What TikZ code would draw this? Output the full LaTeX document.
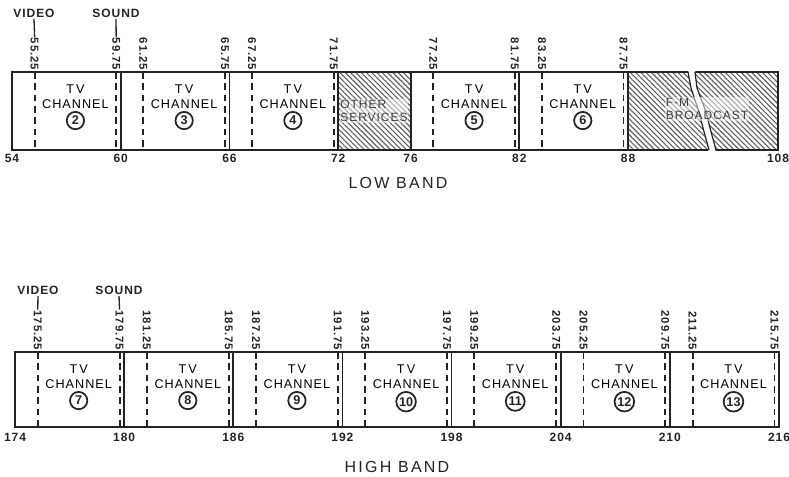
\documentclass[tikz,border=0pt]{standalone}
\usepackage{fontspec}
\setmainfont{Liberation Sans}
\newfontfamily\lettering[LetterSpace=8]{Liberation Sans}
\usepackage{xcolor}
\usetikzlibrary{positioning,patterns.meta}
\definecolor{inkgrey}{RGB}{35,35,35}
\definecolor{hatchgrey}{RGB}{95,95,95}

\tikzset{
  bandframe/.style={draw=inkgrey,line width=1.3pt},
  carrier/.style={draw=inkgrey,line width=1.4pt,dash pattern=on 5pt off 3.5pt},
  freqlbl/.style={font=\lettering\fontsize{8.5}{9}\selectfont\bfseries,text=inkgrey,
                  rotate=-90,anchor=east,inner sep=0.6pt},
  edgelbl/.style={font=\lettering\fontsize{9}{10}\selectfont\bfseries,text=inkgrey,
                  anchor=north,inner sep=1pt},
  toplbl/.style={font=\lettering\fontsize{9}{10}\selectfont\bfseries,text=inkgrey,inner sep=1pt},
  chanlbl/.style={font=\lettering\fontsize{9.5}{11}\selectfont,text=black,align=center,inner sep=0pt},
  chnum/.style={circle,draw=inkgrey,line width=1.3pt,inner sep=0.8pt,minimum size=13pt,
                font=\fontsize{9.5}{10}\selectfont\bfseries,text=inkgrey},
  hatch/.style={pattern={Lines[angle=-45,distance=2.8pt,line width=0.85pt]},pattern color=hatchgrey},
  hatchlbl/.style={font=\lettering\fontsize{9}{10}\selectfont,text=inkgrey,
                   fill=white,fill opacity=0.5,text opacity=0.85,inner sep=0.5pt,align=left},
  bandname/.style={font=\fontsize{12}{13}\selectfont\addfontfeature{LetterSpace=14},text=inkgrey}
}

\begin{document}
\begin{tikzpicture}[x=0.75pt,y=-0.75pt]
  \useasboundingbox (0,0) rectangle (789,477);

  % ---------------- low band: 54..88 linear, 88..108 squeezed
  \fill[hatch] (338,72) rectangle (410,150);
  \fill[hatch] (628,72) rectangle (778,150);
  \draw[bandframe] (12,72) rectangle (778,150);
  % break in the F-M block
  \fill[white] (688,69) -- (691,88) -- (699,112) -- (703,128) -- (709,153)
            -- (716,153) -- (710,128) -- (706,112) -- (697,88) -- (695,69) -- cycle;
  \draw[inkgrey,line width=0.9pt] (688,72) -- (691,88) -- (699,112) -- (703,128) -- (709,150);
  \draw[inkgrey,line width=0.9pt] (695,72) -- (697,88) -- (706,112) -- (710,128) -- (716,150);
  % channel edges
  \foreach \f in {60,66,72,76,82,88} {
    \pgfmathsetmacro\xx{12+(\f-54)*18.12}
    \draw[bandframe] (\xx,72) -- (\xx,150);
  }
  % carriers
  \foreach \f [count=\i] in {55.25,59.75,61.25,65.75,67.25,71.75,77.25,81.75,83.25,87.75} {
    \pgfmathsetmacro\xx{12+(\f-54)*18.12}
    \draw[carrier] (\xx,72) -- (\xx,150);
    \node[freqlbl] (lf\i) at (\xx,71) {\f};
  }
  % edge frequencies
  \foreach \f in {54,60,66,72,76,82,88} {
    \pgfmathsetmacro\xx{12+(\f-54)*18.12}
    \node[edgelbl] (le\f) at (\xx,153) {\f};
  }
  \node[edgelbl] (le108) at (778,153) {108};
  % channel names
  \foreach \n/\lo in {2/54,3/60,4/66,5/76,6/82} {
    \pgfmathsetmacro\xx{12+(\lo+3.5-54)*18.12}
    \node[chanlbl] (lch\n) at (\xx,97) {T\,V\\CHANNEL};
    \node[chnum,below=1.5pt of lch\n] (lnum\n) {\n};
  }
  \node[hatchlbl] (other) at (374,111) {OTHER\\SERVICES};
  \node[hatchlbl] (fm) at (707,109) {F-M\\BROADCAST};
  \node[toplbl] (lvideo) at (34,13) {VIDEO};
  \node[toplbl] (lsound) at (116,13) {SOUND};
  \draw[inkgrey,line width=1pt] (lvideo.south) -- (lf1.west);
  \draw[inkgrey,line width=1pt] (lsound.south) -- (lf2.west);
  \node[bandname] (lowband) at (398,183) {LOW BAND};

  % ---------------- high band: 174..216 linear
  \draw[bandframe] (15,352) rectangle (779,427);
  \foreach \f in {180,186,...,210} {
    \pgfmathsetmacro\xx{15+(\f-174)*18.19}
    \draw[bandframe] (\xx,352) -- (\xx,427);
  }
  \foreach \f [count=\i] in {175.25,179.75,181.25,185.75,187.25,191.75,193.25,197.75,
                              199.25,203.75,205.25,209.75,211.25,215.75} {
    \pgfmathsetmacro\xx{15+(\f-174)*18.19}
    \draw[carrier] (\xx,352) -- (\xx,427);
    \node[freqlbl] (hf\i) at (\xx,351) {\f};
  }
  \foreach \f in {174,180,...,216} {
    \pgfmathsetmacro\xx{15+(\f-174)*18.19}
    \node[edgelbl] (he\f) at (\xx,432) {\f};
  }
  \foreach \n/\lo in {7/174,8/180,9/186,10/192,11/198,12/204,13/210} {
    \pgfmathsetmacro\xx{15+(\lo+3.5-174)*18.19}
    \node[chanlbl] (hch\n) at (\xx,377) {T\,V\\CHANNEL};
    \node[chnum,below=1.5pt of hch\n] (hnum\n) {\n};
  }
  \node[toplbl] (hvideo) at (38,290) {VIDEO};
  \node[toplbl] (hsound) at (119,290) {SOUND};
  \draw[inkgrey,line width=1pt] (hvideo.south) -- (hf1.west);
  \draw[inkgrey,line width=1pt] (hsound.south) -- (hf2.west);
  \node[bandname] (highband) at (397,467) {HIGH BAND};
\end{tikzpicture}
\end{document}
